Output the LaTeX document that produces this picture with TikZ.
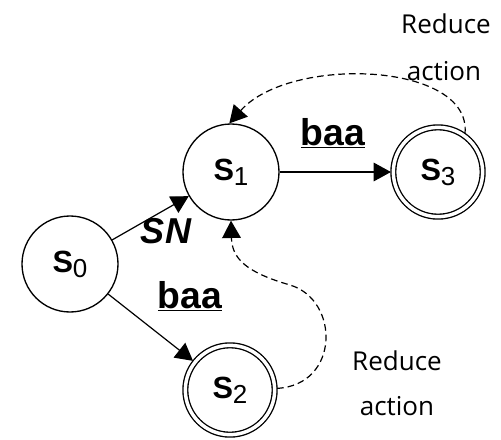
\documentclass[tikz,border=0pt]{standalone}
\usepackage{fontspec}
\setmainfont{Liberation Sans}
\newfontfamily\notefont{Open Sans}
\usetikzlibrary{arrows.meta}

% state label: bold S with a plain digit below
\newcommand{\stlab}[1]{\textbf{S}\raisebox{-3.8pt}{\fontsize{19.5}{19.5}\selectfont #1}}

\begin{document}
\begin{tikzpicture}[x=0.75pt,y=0.75pt,yscale=-1,xscale=1,
    state/.style={draw,circle,line width=1pt,minimum size=72pt,inner sep=0pt,
      font=\fontsize{23}{23}\selectfont},
    final/.style={state,double,double distance=2.6pt,minimum size=67pt,outer sep=1.8pt},
    move/.style={-{Triangle[length=13pt,width=14pt]},line width=0.9pt},
    reduceline/.style={move,dash pattern=on 5pt off 3pt},
    edgelab/.style={font=\fontsize{28}{28}\selectfont\bfseries,anchor=base},
    note/.style={font=\fontsize{19.5}{19.5}\selectfont\notefont,anchor=base,inner sep=0pt}]
    \useasboundingbox (0,0) rectangle (501,440);

    % states
    \node[state] (s0) at (70,264) {\stlab{0}};
    \node[state] (s1) at (231,172) {\stlab{1}};
    \node[final] (s3) at (438,172) {\stlab{3}};
    \node[final] (s2) at (230,390) {\stlab{2}};

    % shift moves
    \draw[move] (s0) -- (s1);
    \draw[move] (s1) -- (s3);
    \draw[move] (s0) -- (s2);

    \node[edgelab] (l13) at (333,145) {\underline{baa}};
    \node[edgelab,font=\fontsize{27}{27}\selectfont\bfseries\itshape] (lsn) at (166,243) {SN};
    \node[edgelab] (l02) at (190,308) {\underline{baa}};

    % reduce actions back to s1
    \draw[reduceline] (s3.55) .. controls (472,62) and (290,55) .. (s1.92);
    \draw[reduceline] (s2.2) .. controls (340,385) and (340,300) .. (290,285)
      .. controls (245,272) and (232,258) .. (s1.south);

    \node[note] (r1) at (446,33) {Reduce};
    \node[note] (a1) at (444,80) {action};
    \node[note] (r2) at (397,370) {Reduce};
    \node[note] (a2) at (397,415) {action};
\end{tikzpicture}
\end{document}
